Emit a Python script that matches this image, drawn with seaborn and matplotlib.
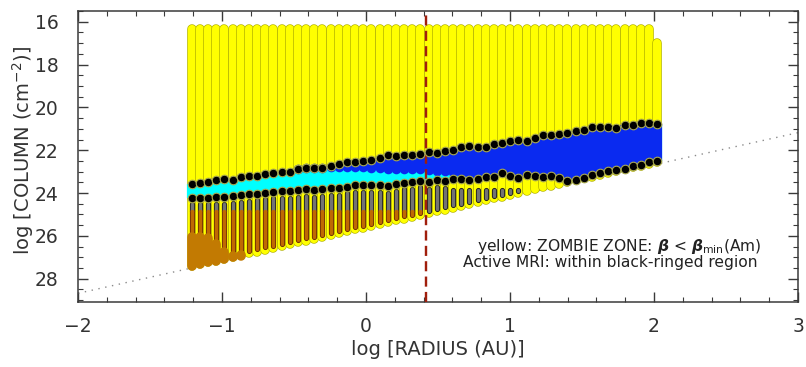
import numpy as np
import pandas as pd
import matplotlib
matplotlib.use("Agg")
import matplotlib.pyplot as plt
import seaborn as sns

# ---------------- data ----------------
log_r = [-1.210, -1.153, -1.097, -1.040, -0.983, -0.927, -0.870, -0.813, -0.756, -0.700,
         -0.643, -0.586, -0.530, -0.473, -0.416, -0.360, -0.303, -0.246, -0.189, -0.133,
         -0.076, -0.019, 0.037, 0.094, 0.151, 0.207, 0.264, 0.321, 0.378, 0.434,
         0.491, 0.548, 0.604, 0.661, 0.718, 0.775, 0.831, 0.888, 0.945, 1.001,
         1.058, 1.115, 1.171, 1.228, 1.285, 1.342, 1.398, 1.455, 1.512, 1.568,
         1.625, 1.682, 1.738, 1.795, 1.852, 1.908, 1.965, 2.022]

col_top = [16.33, 16.33, 16.33, 16.33, 16.33, 16.33, 16.33, 16.33, 16.33, 16.33,
           16.33, 16.33, 16.33, 16.33, 16.33, 16.33, 16.33, 16.33, 16.33, 16.33,
           16.33, 16.33, 16.33, 16.33, 16.33, 16.33, 16.33, 16.33, 16.33, 16.33,
           16.33, 16.33, 16.33, 16.33, 16.33, 16.33, 16.33, 16.33, 16.33, 16.33,
           16.33, 16.33, 16.33, 16.33, 16.33, 16.33, 16.33, 16.33, 16.33, 16.33,
           16.33, 16.33, 16.33, 16.33, 16.33, 16.33, 16.33, 17.00]

col_bottom = [27.41, 27.33, 27.24, 27.16, 27.07, 26.99, 26.90, 26.81, 26.73, 26.64,
              26.56, 26.47, 26.39, 26.30, 26.22, 26.13, 26.05, 25.96, 25.87, 25.79,
              25.70, 25.62, 25.53, 25.45, 25.36, 25.28, 25.19, 25.11, 25.02, 24.94,
              24.85, 24.77, 24.68, 24.60, 24.51, 24.42, 24.34, 24.25, 24.17, 24.08,
              24.00, 23.91, 23.83, 23.74, 23.66, 23.57, 23.49, 23.40, 23.31, 23.23,
              23.14, 23.06, 22.97, 22.89, 22.80, 22.72, 22.63, 22.55]

ring_upper = [23.56, 23.52, 23.49, 23.41, 23.33, 23.38, 23.26, 23.21, 23.19, 23.10,
              23.05, 23.02, 23.02, 22.87, 22.82, 22.84, 22.82, 22.73, 22.65, 22.57,
              22.53, 22.51, 22.45, 22.35, 22.21, 22.29, 22.21, 22.21, 22.19, 22.08,
              22.12, 22.05, 21.98, 21.85, 21.79, 21.83, 21.83, 21.71, 21.64, 21.55,
              21.52, 21.55, 21.43, 21.29, 21.29, 21.24, 21.18, 21.08, 21.05, 20.93,
              20.93, 20.90, 20.96, 20.80, 20.80, 20.71, 20.71, 20.77]

ring_lower = [24.21, 24.21, 24.21, 24.19, 24.19, 24.15, 24.11, 24.06, 24.03, 23.98,
              23.95, 23.92, 23.91, 23.87, 23.83, 23.87, 23.83, 23.78, 23.77, 23.72,
              23.64, 23.64, 23.64, 23.64, 23.69, 23.60, 23.53, 23.49, 23.44, 23.49,
              23.41, 23.46, 23.34, 23.33, 23.40, 23.33, 23.26, 23.24, 23.06, 23.22,
              23.29, 23.18, 23.22, 23.26, 23.22, 23.29, 23.44, 23.38, 23.29, 23.18,
              23.07, 22.98, 22.94, 22.87, 22.76, 22.68, 22.55, 22.48]

nan = float("nan")
# lower limit of the dark-blue part of the active layer (nan: all cyan)
blue_lower = [nan, nan, nan, nan, nan, nan, nan, nan, nan, nan,
              nan, nan, nan, 22.87, 22.82, 22.84, 22.82, 22.78, 22.78, 22.78,
              22.80, 22.80, 22.82, 22.85, 22.88, 22.88, 22.88, 22.90, 22.90, 22.94,
              22.96, 22.98, 23.02, 23.05, 23.10, 23.33, 23.26, 23.24, 23.06, 23.22,
              23.29, 23.18, 23.22, 23.26, 23.22, 23.29, 23.44, 23.38, 23.29, 23.18,
              23.07, 22.98, 22.94, 22.87, 22.76, 22.68, 22.55, 22.48]

# dead zone (first 41 radii)
dead_top = [24.51, 24.51, 24.51, 24.49, 24.49, 24.45, 24.41, 24.36, 24.33, 24.28,
            24.25, 24.22, 24.21, 24.17, 24.13, 24.17, 24.13, 24.08, 24.07, 24.02,
            23.94, 23.94, 23.94, 23.94, 23.99, 23.90, 23.83, 23.79, 23.74, 23.79,
            23.71, 23.76, 23.84, 23.84, 23.86, 23.84, 23.84, 23.84, 23.84, 23.86,
            23.88]
dead_bottom = [27.31, 27.23, 27.14, 27.06, 26.97, 26.89, 26.80, 26.71, 26.63, 26.54,
               26.46, 26.37, 26.29, 26.20, 26.12, 26.03, 25.95, 25.86, 25.77, 25.69,
               25.60, 25.52, 25.43, 25.35, 25.26, 25.18, 25.09, 25.01, 24.92, 24.84,
               24.75, 24.67, 24.58, 24.50, 24.41, 24.32, 24.24, 24.15, 24.07, 23.98,
               23.90]
dead_split = 24.85           # grey above, brown below
blob_top = [26.05, 26.05, 26.10, 26.40, 26.75, 26.95, 26.95]   # brown blob, first radii

ref_x = [-2.0, 3.0]
ref_y = [28.68, 21.18]
r_dash = 0.415

# ---------------- style ----------------
sns.set_theme(style="ticks")
plt.rcParams["font.family"] = ["DejaVu Sans"]
plt.rcParams["mathtext.fontset"] = "custom"
plt.rcParams["mathtext.rm"] = "DejaVu Sans"
plt.rcParams["mathtext.it"] = "DejaVu Sans:italic"
plt.rcParams["mathtext.bf"] = "DejaVu Sans:italic:bold"

PX = 0.72  # points per pixel at dpi 100
W = 9.6 * PX

fig = plt.figure(figsize=(8.06, 3.67), dpi=100)
ax = fig.add_axes([0.0968, 0.178, 0.8933, 0.7921])

# dotted reference line
sns.lineplot(x=ref_x, y=ref_y, ax=ax, color="#8a8a8a", lw=1.0,
             linestyle=(0, (1, 4)), zorder=1)

# yellow columns
for x, t, b in zip(log_r, col_top, col_bottom):
    ax.plot([x, x], [t, b], color="#b4b400", lw=W, solid_capstyle="round", zorder=2)
    ax.plot([x, x], [t, b], color="#ffff00", lw=W - 1.4 * PX, solid_capstyle="round", zorder=2)

# active layer
for x, u, l in zip(log_r, ring_upper, ring_lower):
    ax.plot([x, x], [u, l], color="#00ffff", lw=W + 0.6 * PX, solid_capstyle="butt", zorder=3)
for x, u, bl, l in zip(log_r, ring_upper, blue_lower, ring_lower):
    if np.isnan(bl):
        continue
    ax.plot([x, x], [u, bl], color="#0a2af0", lw=W + 0.6 * PX, solid_capstyle="butt", zorder=3.1)
    if bl < l - 0.01:
        ax.plot([x], [bl], marker="o", ms=W, mew=0, color="#0a2af0", zorder=3.1)

# dead zone bars
for x, t, b in zip(log_r[:len(dead_top)], dead_top, dead_bottom):
    split = min(max(dead_split, t), b)
    ax.plot([x, x], [t, split], color="#1e1e1e", lw=5.2 * PX, solid_capstyle="round", zorder=4)
    if b > split:
        ax.plot([x, x], [split, b], color="#6e2c05", lw=5.2 * PX, solid_capstyle="round", zorder=4)
    ax.plot([x, x], [t, split], color="#737373", lw=3.4 * PX, solid_capstyle="round", zorder=4)
    if b > split:
        ax.plot([x, x], [split, b], color="#bf6a02", lw=3.4 * PX, solid_capstyle="round", zorder=4)

for x, t, b in zip(log_r, blob_top, col_bottom):
    ax.plot([x, x], [t, b], color="#c27a02", lw=W, solid_capstyle="round", zorder=4.5)

# dashed radius marker
ax.axvline(r_dash, color="#a01e0c", lw=2.4 * PX, linestyle=(0, (4.2, 2.2)), zorder=5)

# black rings at the active-layer boundaries
rings = pd.DataFrame({
    "log_r": log_r + log_r,
    "column": ring_upper + ring_lower,
})
sns.scatterplot(data=rings, x="log_r", y="column", ax=ax, color="black",
                s=(8.6 * PX) ** 2, edgecolor="#a8a850", linewidth=0.8, zorder=6,
                legend=False)

# ---------------- axes ----------------
ax.set_xlim(-2, 3)
ax.set_ylim(29.07, 15.55)
ax.set_xticks([-2, -1, 0, 1, 2, 3])
ax.set_yticks([16, 18, 20, 22, 24, 26, 28])
ax.set_xticks(np.arange(-2, 3.001, 0.2), minor=True)
ax.set_yticks(np.arange(15.5, 29.01, 0.5), minor=True)
spine_c = "#3a3a3a"
for s in ax.spines.values():
    s.set_color(spine_c)
    s.set_linewidth(1.1)
ax.tick_params(which="both", direction="in", top=True, right=True, color=spine_c,
               labelcolor="#333333")
ax.tick_params(which="major", length=7, width=1.0, labelsize=13.5)
ax.tick_params(which="minor", length=3.5, width=0.8)
ax.tick_params(axis="y", which="major", pad=14)
ax.tick_params(axis="x", which="major", pad=11)
ax.set_xlabel("log [RADIUS (AU)]", fontsize=14, color="#333333", labelpad=3)
ax.set_ylabel(r"log [COLUMN (cm$^{-2}$)]", fontsize=14, color="#333333")
ax.yaxis.set_label_coords(-0.059, 0.52)
ax.grid(False)

ax.text(2.75, 26.48, r"yellow: ZOMBIE ZONE: $\mathbf{\beta}$ < $\mathbf{\beta}_{\rm min}$(Am)",
        ha="right", va="center", fontsize=11.2, color="#222222", zorder=7)
ax.text(2.72, 27.22, "Active MRI: within black-ringed region",
        ha="right", va="center", fontsize=11.2, color="#222222", zorder=7)

fig.savefig("out.png", dpi=100)
